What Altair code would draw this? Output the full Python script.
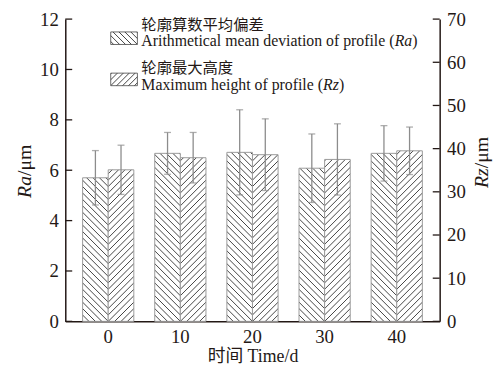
import altair as alt
import pandas as pd

# ---------------- data ----------------
days = [0, 10, 20, 30, 40]
ra_mean = [5.70, 6.67, 6.71, 6.08, 6.67]
ra_err = [1.08, 0.83, 1.69, 1.36, 1.10]
rz_mean = [35.1, 37.9, 38.6, 37.5, 39.5]
rz_err = [5.7, 5.85, 8.3, 8.25, 5.5]
ra_ticks = [0, 2, 4, 6, 8, 10, 12]
rz_ticks = [0, 10, 20, 30, 40, 50, 60, 70]
series = ["Ra", "Rz"]
legend_cn = ["轮廓算数平均偏差", "轮廓最大高度"]
legend_en = ["Arithmetical mean deviation of profile (", "Maximum height of profile ("]
legend_sym = ["Ra", "Rz"]
x_title = "时间 Time/d"
y_unit = "/μm"

# ---------------- layout / style ----------------
W, H = 379, 306
RA_MAX, RZ_MAX = 12, 70
P_IN, P_OUT = 0.29, 0.24
step = W / (len(days) - P_IN + 2 * P_OUT)
bar_w = step * (1 - P_IN) / 2

SERIF = "Liberation Serif, Times New Roman, serif"
CJK = "Noto Sans CJK SC"
MIX = "Liberation Serif, Noto Sans CJK SC"
INK = "#231815"
ERR = "#8c8c8c"
EDGE = "#9a9a9a"
TICK_FS = 19


def hatch(w, h, kind, spacing=6.5, half=1.0, line="#444444", bg="#ffffff"):
    span = w + h
    k = span / (w * w + h * h)
    if kind == "back":
        x1, y1, x2, y2 = 0, 1, k * w, 1 - k * h
        phase = w % spacing
    else:
        x1, y1, x2, y2 = 0, 0, k * w, k * h
        phase = h % spacing
    stops = [(0.0, bg)]
    c = phase - spacing
    while c - half < span:
        for off, col in ((c - half, bg), (c, line), (c + half, bg)):
            o = min(max(off / span, 0.0), 1.0)
            stops.append((o, col))
        c += spacing
    stops.append((1.0, bg))
    return alt.LinearGradient(
        gradient="linear",
        stops=[alt.GradientStop(color=col, offset=o) for o, col in stops],
        x1=x1, y1=y1, x2=x2, y2=y2,
    )


df_ra = pd.DataFrame({"day": days, "series": "Ra", "mean": ra_mean, "err": ra_err})
df_rz = pd.DataFrame({"day": days, "series": "Rz", "mean": rz_mean, "err": rz_err})
one = pd.DataFrame({"k": [0]})

x_axis = alt.Axis(
    title=x_title, labelAngle=0, ticks=False, grid=False,
    domainColor=INK, domainWidth=1.5,
    labelFont=SERIF, labelFontSize=TICK_FS, labelColor=INK, labelPadding=6,
    titleFont=MIX, titleFontSize=18, titleFontWeight="normal", titleColor=INK,
    titlePadding=2,
)
X = alt.X("day:O", scale=alt.Scale(domain=days, paddingInner=P_IN, paddingOuter=P_OUT), axis=x_axis)
XO = alt.XOffset("series:N", scale=alt.Scale(domain=series))


def y_axis(values, orient):
    return alt.Axis(
        title=None, values=values, ticks=False, grid=False, orient=orient,
        domainColor=INK, domainWidth=1.5,
        labelFont=SERIF, labelFontSize=TICK_FS, labelColor=INK, labelPadding=7,
    )


def group(df, means, ymax, ticks, orient, kind, tick_x):
    scale = alt.Scale(domain=[0, ymax], nice=False, zero=True)
    ax = y_axis(ticks, orient)
    layers = []
    for i, d in enumerate(days):
        h = means[i] / ymax * H
        layers.append(
            alt.Chart(df).transform_filter(alt.datum.day == d)
            .mark_bar(fill=hatch(bar_w, h, kind), stroke=EDGE, strokeWidth=1)
            .encode(x=X, xOffset=XO, y=alt.Y("mean:Q", scale=scale, axis=ax))
        )
    base = alt.Chart(df).transform_calculate(
        lo="datum.mean - datum.err", hi="datum.mean + datum.err"
    )
    layers.append(
        base.mark_rule(color=ERR, strokeWidth=1.3).encode(
            x=X, xOffset=XO, y=alt.Y("lo:Q", scale=scale, axis=ax), y2="hi:Q"
        )
    )
    for f in ("hi", "lo"):
        layers.append(
            base.mark_tick(color=ERR, thickness=1.3, size=7).encode(
                x=X, xOffset=XO, y=alt.Y(f + ":Q", scale=scale, axis=ax)
            )
        )
    tdf = pd.DataFrame({"v": ticks})
    layers.append(
        alt.Chart(tdf).mark_rule(color=INK, strokeWidth=1.3).encode(
            y=alt.Y("v:Q", scale=scale, axis=ax),
            x=alt.value(tick_x[0]), x2=alt.value(tick_x[1]),
        )
    )
    return alt.layer(*layers)


ra_layer = group(df_ra, ra_mean, RA_MAX, ra_ticks, "left", "back", (0, 7))
rz_layer = group(df_rz, rz_mean, RZ_MAX, rz_ticks, "right", "fwd", (W - 7, W))


def txt(s, x, y, font, size, style="normal", angle=0, align="left"):
    return alt.Chart(one).mark_text(
        font=font, fontSize=size, fontStyle=style, color=INK,
        align=align, baseline="middle", angle=angle,
    ).encode(text=alt.value(s), x=alt.value(x), y=alt.value(y))


def swatch(kind, y0):
    return alt.Chart(one).mark_rect(
        fill=hatch(27, 12.7, kind, spacing=6.0), stroke="#444444", strokeWidth=0.8
    ).encode(x=alt.value(46), x2=alt.value(73), y=alt.value(y0), y2=alt.value(y0 + 12.7))


deco = [
    swatch("back", 13),
    swatch("fwd", 54.7),
    txt(legend_cn[0], 77, 6, CJK, 15.5),
    txt(legend_en[0], 77, 22.5, SERIF, 16),
    txt(legend_sym[0], 333.4, 22.5, SERIF, 16, "italic"),
    txt(")", 351.2, 22.5, SERIF, 16),
    txt(legend_cn[1], 77, 50, CJK, 15.5),
    txt(legend_en[1], 77, 66.5, SERIF, 16),
    txt(legend_sym[1], 261, 66.5, SERIF, 16, "italic"),
    txt(")", 277, 66.5, SERIF, 16),
    # left y title (rotated, reads bottom-to-top)
    txt(series[0], -41, 181, SERIF, 20, "italic", 270),
    txt(y_unit, -41, 158.8, SERIF, 20, "normal", 270),
    # right y title
    txt(series[1], 422, 171, SERIF, 20, "italic", 270),
    txt(y_unit, 422, 151, SERIF, 20, "normal", 270),
]

chart = (
    alt.layer(ra_layer, rz_layer, *deco)
    .resolve_scale(y="independent")
    .properties(
        width=W, height=H, autosize="none",
        padding={"left": 58, "top": 9, "right": 55, "bottom": 47},
        background="white",
    )
    .configure_view(stroke=None)
)

chart.save("out.html", embed_options={"renderer": "svg", "actions": False})
